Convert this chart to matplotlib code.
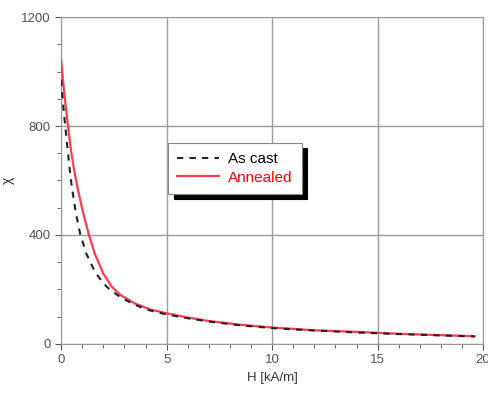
import matplotlib
matplotlib.use('Agg')
import matplotlib.pyplot as plt
from matplotlib.ticker import MultipleLocator

# susceptibility vs applied field
h_cast = [0, 0.1, 0.2, 0.3, 0.4, 0.5, 0.7, 0.9, 1.2, 1.6, 2.0, 2.3, 2.8, 3.5, 4.2, 5,
          6, 7, 8.5, 10, 12, 14, 16, 18, 19.6]
chi_cast = [970, 875, 795, 720, 645, 580, 480, 405, 330, 265, 222, 200, 172, 143, 123, 108,
            94, 82, 68, 58, 49, 42, 36, 31, 27]

h_ann = [0, 0.1, 0.2, 0.3, 0.45, 0.6, 0.8, 1.0, 1.3, 1.6, 2.0, 2.4, 2.8, 3.5, 4.2, 5,
         6, 7, 8.5, 10, 12, 14, 16, 18, 19.6]
chi_ann = [1040, 960, 885, 815, 720, 645, 565, 495, 405, 330, 258, 210, 180, 148, 127, 112,
           97, 84, 70, 60, 50, 44, 37, 32, 28]

plt.rcParams['font.family'] = ['Liberation Sans', 'DejaVu Sans']

fig = plt.figure(figsize=(4.89, 3.98), dpi=100)
ax = fig.add_axes([0.125, 0.136, 0.863, 0.821])

ax.plot(h_ann, chi_ann, color='#ff3b4e', lw=1.6, label='Annealed', zorder=3)
ax.plot(h_cast, chi_cast, color='#222222', lw=1.5, ls=(0, (3, 3)), label='As cast', zorder=4)

ax.set_xlim(0, 20)
ax.set_ylim(0, 1200)
ax.xaxis.set_major_locator(MultipleLocator(5))
ax.xaxis.set_minor_locator(MultipleLocator(1))
ax.yaxis.set_major_locator(MultipleLocator(400))
ax.yaxis.set_minor_locator(MultipleLocator(100))
ax.grid(True, which='major', color='#9a9a9a', lw=1)
ax.tick_params(which='both', direction='out', colors='#555555', labelsize=9.5)
ax.tick_params(which='major', length=4)
ax.tick_params(which='minor', length=3)
for s in ax.spines.values():
    s.set_color('#9a9a9a')

ax.set_xlabel('H [kA/m]', fontsize=9.5, color='#333333')
ax.set_ylabel('χ', fontsize=10, color='#333333')
ax.yaxis.set_label_coords(-0.11, 0.5)

handles, labels = ax.get_legend_handles_labels()
leg = ax.legend(handles[::-1], labels[::-1], loc='upper left', bbox_to_anchor=(0.254, 0.615),
                borderaxespad=0, fancybox=False, edgecolor='#888888', framealpha=1,
                fontsize=11, handlelength=2.7, handletextpad=0.6, labelspacing=0.3,
                borderpad=0.6, labelcolor=['black', 'red'],
                shadow={'color': 'black', 'alpha': 1, 'ox': 4, 'oy': -4})
leg.get_frame().set_linewidth(0.8)

fig.savefig('out.png', dpi=100)
